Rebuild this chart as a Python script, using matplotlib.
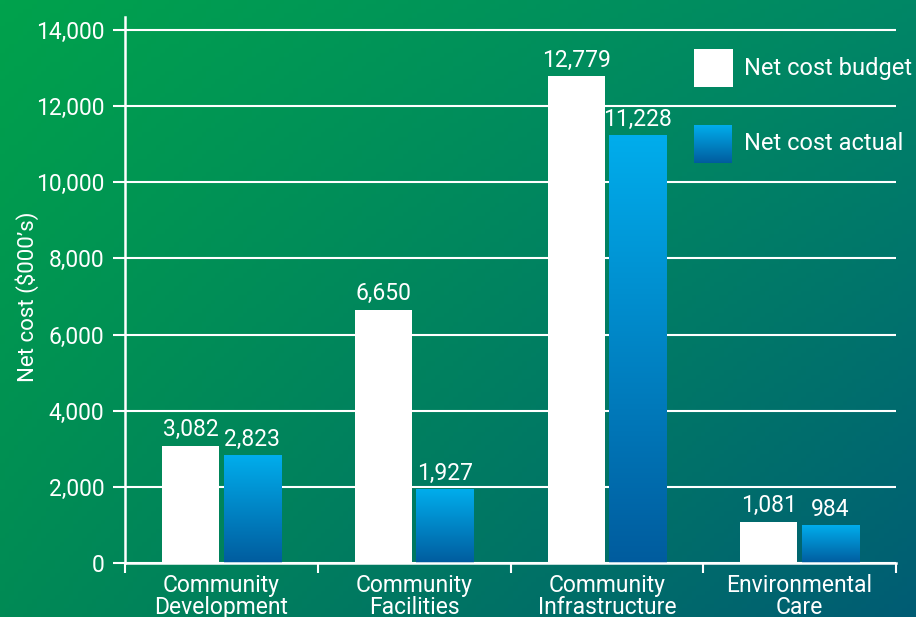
import matplotlib
matplotlib.use("Agg")
import matplotlib.pyplot as plt
from matplotlib.colors import LinearSegmentedColormap, to_rgb
import numpy as np

categories = ["Community\nDevelopment", "Community\nFacilities",
              "Community\nInfrastructure", "Environmental\nCare"]
budget = [3082, 6650, 12779, 1081]
actual = [2823, 1927, 11228, 984]
series_names = ["Net cost budget", "Net cost actual"]
yticks = [0, 2000, 4000, 6000, 8000, 10000, 12000, 14000]

plt.rcParams['font.family'] = ['Roboto', 'DejaVu Sans']
FS = 16.5

W, H = 916, 617
fig = plt.figure(figsize=(W / 100, H / 100), dpi=100)

# background: bilinear gradient between four corner colours
tl, tr = np.array(to_rgb("#00a24c")), np.array(to_rgb("#008766"))
bl, br = np.array(to_rgb("#008a55")), np.array(to_rgb("#005c74"))
u = np.linspace(0, 1, 200)[None, :, None]
v = np.linspace(0, 1, 140)[:, None, None]
bg = (1 - v) * ((1 - u) * tl + u * tr) + v * ((1 - u) * bl + u * br)
bgax = fig.add_axes([0, 0, 1, 1], zorder=-10)
bgax.imshow(bg, aspect='auto', extent=[0, 1, 0, 1])
bgax.axis('off')

ax = fig.add_axes([125 / W, 1 - 563 / H, 771 / W, (563 - 17) / H])
ax.patch.set_alpha(0)

blue_cmap = LinearSegmentedColormap.from_list("bl", ["#005c9e", "#00adec"])
grad = np.linspace(0, 1, 256)[:, None]

x = np.arange(len(categories))
w = 0.296
off = 0.16
bars_b = ax.bar(x - off, budget, w, color="white", zorder=3)
bars_a = ax.bar(x + off, actual, w, color="none", zorder=3)
for r in bars_a:
    ax.imshow(grad, cmap=blue_cmap, origin='lower', aspect='auto', zorder=3,
              extent=[r.get_x(), r.get_x() + r.get_width(), 0, r.get_height()])

for bars, vals in [(bars_b, budget), (bars_a, actual)]:
    for r, val in zip(bars, vals):
        ax.text(r.get_x() + r.get_width() / 2, val + 130, f"{val:,}",
                ha='center', va='bottom', color='white', fontsize=FS,
                zorder=4)

ax.set_xlim(-0.5, 3.5)
ax.set_ylim(0, 14340)
ax.set_yticks(yticks)
ax.set_yticklabels([f"{t:,}" for t in yticks])
ax.set_xticks(np.arange(-0.5, 4, 1))
ax.set_xticklabels([])
ax.set_xticks(x, minor=True)
ax.set_xticklabels(categories, minor=True)
ax.tick_params(axis='x', which='minor', length=0, pad=8, labelsize=FS,
               labelcolor='white')
ax.tick_params(axis='x', which='major', direction='out', length=7,
               width=1.5, color='white')
ax.tick_params(axis='y', direction='out', length=9, width=1.5, color='white',
               labelcolor='white', labelsize=FS, pad=6)
for lab in ax.get_xticklabels(minor=True):
    lab.set_linespacing(0.95)

ax.grid(axis='y', color='white', linewidth=1.5, zorder=1)
for s in ['top', 'right']:
    ax.spines[s].set_visible(False)
for s in ['left', 'bottom']:
    ax.spines[s].set_color('white')
    ax.spines[s].set_linewidth(1.8)
    ax.spines[s].set_zorder(5)

fig.text(27 / W, 1 - 297 / H, "Net cost ($000\u2019s)", rotation=90,
         ha='center', va='center', color='white', fontsize=16)

# legend
sq = 38
lx = 694
for i, name in enumerate(series_names):
    top = 49 + i * 76
    lax = fig.add_axes([lx / W, 1 - (top + sq) / H, sq / W, sq / H])
    if i == 0:
        lax.imshow(np.ones((2, 2, 3)), aspect='auto')
    else:
        lax.imshow(grad, cmap=blue_cmap, origin='lower', aspect='auto')
    lax.axis('off')
    fig.text(744 / W, 1 - (top + sq / 2) / H, name, ha='left', va='center',
             color='white', fontsize=17)

fig.savefig("out.png", dpi=100)
